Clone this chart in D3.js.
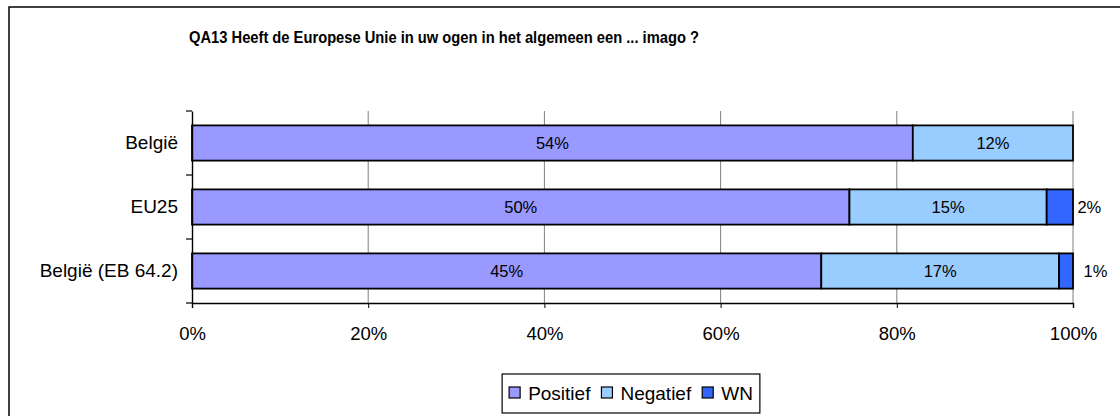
<!DOCTYPE html>
<html>
<head>
<meta charset="utf-8">
<script src="https://cdn.jsdelivr.net/npm/d3@7"></script>
<style>
  body { margin: 0; background: #fff; }
  text { font-family: "Liberation Sans", Arial, sans-serif; fill: #000; }
</style>
</head>
<body>
<svg id="chart"></svg>
<script>
// data
const categories = ["België", "EU25", "België (EB 64.2)"]
const positief = [54, 50, 45]
const negatief = [12, 15, 17]
const wn = [0, 2, 1]
const seriesNames = ["Positief", "Negatief", "WN"]
const xTicks = [0, 0.2, 0.4, 0.6, 0.8, 1]
const title = "QA13 Heeft de Europese Unie in uw ogen in het algemeen een ... imago ?"

const width = 1120
const height = 416
const colors = ["#9999FF", "#99CCFF", "#3366FF"]

const svg = d3.select('svg#chart').attr('width', width).attr('height', height)

// chart border (runs off the right and bottom edge)
svg.append('rect')
  .attr('x', 9).attr('y', 7)
  .attr('width', 1200).attr('height', 500)
  .attr('fill', 'none').attr('stroke', '#000').attr('stroke-width', 1.5)

svg.append('text')
  .attr('x', 444).attr('y', 43)
  .attr('text-anchor', 'middle')
  .attr('textLength', 510).attr('lengthAdjust', 'spacingAndGlyphs')
  .style('font-size', '17px').style('font-weight', 'bold')
  .text(title)

const rows = categories.map((c, i) => ({
  cat: c, Positief: positief[i], Negatief: negatief[i], WN: wn[i]
}))

const stacked = d3.stack().keys(seriesNames).offset(d3.stackOffsetExpand)(rows)

const plot = { left: 192, right: 1073, top: 111, bottom: 303 }

const xScale = d3.scaleLinear().domain([0, 1]).range([plot.left, plot.right])
const yScale = d3.scaleBand().domain(categories)
  .range([plot.top, plot.bottom]).paddingInner(0.45).paddingOuter(0.225)

// vertical gridlines
svg.append('g').selectAll('line').data(xTicks.slice(1)).enter().append('line')
  .attr('x1', d => xScale(d)).attr('x2', d => xScale(d))
  .attr('y1', plot.top).attr('y2', plot.bottom)
  .attr('stroke', '#808080').attr('stroke-width', 1)

// bars
const layers = svg.append('g').selectAll('g').data(stacked).enter().append('g')
  .attr('fill', (d, i) => colors[i])

layers.selectAll('rect').data(d => d).enter().append('rect')
  .attr('x', d => xScale(d[0]))
  .attr('y', d => yScale(d.data.cat))
  .attr('width', d => xScale(d[1]) - xScale(d[0]))
  .attr('height', yScale.bandwidth())
  .attr('stroke', '#000').attr('stroke-width', 1.8)
  .style('display', d => d[1] - d[0] > 0 ? null : 'none')

// value labels
stacked.forEach((layer, li) => {
  const key = layer.key
  svg.append('g').selectAll('text').data(layer.filter(d => d.data[key] > 0)).enter().append('text')
    .attr('x', d => {
      const mid = (xScale(d[0]) + xScale(d[1])) / 2
      return key === 'WN' ? mid + 29.5 : mid
    })
    .attr('y', d => yScale(d.data.cat) + yScale.bandwidth() / 2)
    .attr('dy', '0.36em')
    .attr('text-anchor', 'middle')
    .style('font-size', '16.5px')
    .text(d => d.data[key] + '%')
})

// axes
const xAxis = svg.append('g')
  .attr('transform', 'translate(0,' + plot.bottom + ')')
  .call(d3.axisBottom(xScale).tickValues(xTicks).tickFormat(d3.format('.0%')).tickSize(5).tickPadding(19))
xAxis.select('.domain').attr('stroke', '#000').attr('stroke-width', 1.4)
xAxis.selectAll('.tick line').attr('stroke', '#000')
xAxis.selectAll('text').style('font-size', '18.5px').attr('font-family', null)

const yAxis = svg.append('g')
  .attr('transform', 'translate(' + plot.left + ',0)')
  .call(d3.axisLeft(yScale).tickSize(0).tickPadding(14))
yAxis.select('.domain').attr('stroke', '#000').attr('stroke-width', 1.4)
yAxis.selectAll('text').style('font-size', '19px').attr('font-family', null)

// category separator ticks on the left axis
const bounds = [plot.top].concat(categories.map(c => yScale(c) - yScale.step() * yScale.paddingInner() / 2 + yScale.step()))
svg.append('g').selectAll('line').data(bounds).enter().append('line')
  .attr('x1', plot.left - 6).attr('x2', plot.left)
  .attr('y1', d => d).attr('y2', d => d)
  .attr('stroke', '#000').attr('stroke-width', 1.2)

// legend
const legend = svg.append('g')
const legendY = 393
let lx = 0
const items = seriesNames.map((name, i) => {
  const g = legend.append('g')
  g.append('rect').attr('x', lx).attr('y', legendY - 6).attr('width', 11).attr('height', 11)
    .attr('fill', colors[i]).attr('stroke', '#000').attr('stroke-width', 1.2)
  const t = g.append('text').attr('x', lx + 19).attr('y', legendY).attr('dy', '0.36em')
    .style('font-size', '19px').text(name)
  lx += 19 + t.node().getComputedTextLength() + 11
  return g
})
const legendW = lx - 11
const legendLeft = 631 - legendW / 2
legend.attr('transform', 'translate(' + legendLeft + ',0)')
svg.insert('rect', 'g')
  .attr('x', legendLeft - 7).attr('y', 374)
  .attr('width', legendW + 14).attr('height', 39)
  .attr('fill', '#fff').attr('stroke', '#000').attr('stroke-width', 1.2)
</script>
</body>
</html>
